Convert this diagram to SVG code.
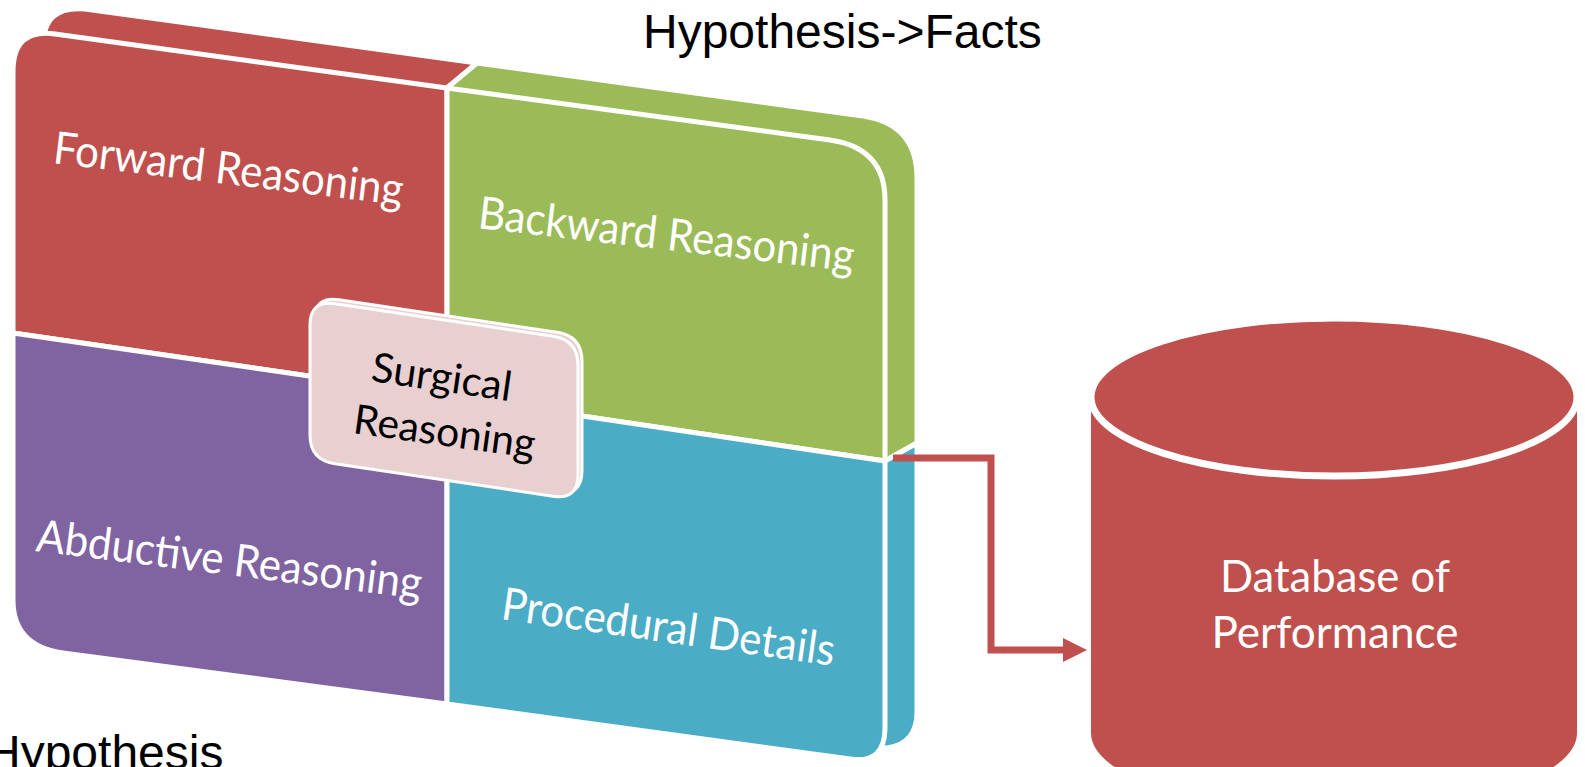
<svg xmlns="http://www.w3.org/2000/svg" width="1585" height="767" viewBox="0 0 1585 767">
  <style>
    .face { stroke: #ffffff; stroke-width: 5; stroke-linejoin: round; }
    .red { fill: #C0504D; }
    .green { fill: #9BBB59; }
    .purple { fill: #8064A2; }
    .blue { fill: #4BACC6; }
    .pink { fill: #E8CFD0; stroke: #ffffff; stroke-width: 3; }
    .lbl { font-family: Lato, "Open Sans", sans-serif; font-size: 45px; fill: #ffffff; }
    .dark { font-family: Lato, "Open Sans", sans-serif; font-size: 41px; fill: #000000; }
    .cap { font-family: "Liberation Sans", Arial, sans-serif; font-size: 48px; fill: #000000; }
    .conn { fill: none; stroke: #C0504D; stroke-width: 7; stroke-linejoin: miter; }
  </style>
  <defs>
    <marker id="arrow" viewBox="0 0 24 24" refX="1" refY="12" markerWidth="24" markerHeight="24" markerUnits="userSpaceOnUse" orient="auto">
      <path d="M0,0 L24,12 L0,24 Z" fill="#C0504D"/>
    </marker>
  </defs>

  <!-- free captions -->
  <text class="cap" x="643" y="48">Hypothesis-&gt;Facts</text>
  <text class="cap" x="-14" y="769">Hypothesis</text>

  <!-- extruded back pieces (visible as top / right thickness) -->
  <g id="matrix-depth">
    <path class="face red" d="M43,60 L43,47 Q43,5 85,9 L477,63 L447,88 L447,300 L43,300 Z"/>
    <path class="face green" d="M477,63 L863,116 Q917,124 917,178 L917,443 L885,461 L447,396 L447,88 Z"/>
    <path class="face blue" d="M885,461 L917,443 L917,712 Q917,744 887,748 L447,704 L447,396 Z"/>
  </g>

  <!-- quadrant faces -->
  <g id="forward-reasoning">
    <path class="face red" d="M13,333 L13,72 Q13,28 55,34 L447,88 L447,396 Z"/>
    <text class="lbl" x="52" y="163" transform="rotate(6.9 52 163)" textLength="352" lengthAdjust="spacingAndGlyphs">Forward Reasoning</text>
  </g>
  <g id="backward-reasoning">
    <path class="face green" d="M447,88 L830,140 Q885,148 885,200 L885,461 L447,396 Z"/>
    <text class="lbl" x="477" y="228" transform="rotate(6.6 477 228)" textLength="378" lengthAdjust="spacingAndGlyphs">Backward Reasoning</text>
  </g>
  <g id="abductive-reasoning">
    <path class="face purple" d="M13,333 L447,396 L447,704 L63,653 Q13,646 13,600 Z"/>
    <text class="lbl" x="35" y="551" transform="rotate(7.1 35 551)" textLength="388" lengthAdjust="spacingAndGlyphs">Abductive Reasoning</text>
  </g>
  <g id="procedural-details">
    <path class="face blue" d="M447,396 L885,461 L885,728 Q885,764 850,759 L447,704 Z"/>
    <text class="lbl" x="500" y="619" transform="rotate(8 500 619)" textLength="336" lengthAdjust="spacingAndGlyphs">Procedural Details</text>
  </g>

  <!-- centre label -->
  <g id="surgical-reasoning">
    <path class="pink" d="M314,321 Q314,296 339,299.75 L557,332.25 Q582,336 582,361 L582,471 Q582,496 557,492.25 L339,459.75 Q314,456 314,431 Z"/>
    <path class="pink" d="M310,325 Q310,300 335,303.75 L553,336.25 Q578,340 578,365 L578,475 Q578,500 553,496.25 L335,463.75 Q310,460 310,435 Z"/>
    <text class="dark" x="370" y="381" transform="rotate(8.2 370 381)" textLength="141" lengthAdjust="spacingAndGlyphs">Surgical</text>
    <text class="dark" x="352" y="433" transform="rotate(7.9 352 433)" textLength="183" lengthAdjust="spacingAndGlyphs">Reasoning</text>
  </g>

  <!-- database cylinder -->
  <g id="database">
    <path class="red" d="M1091,397 L1091,733 A243,79 0 0 0 1577,733 L1577,397 Z"/>
    <ellipse class="red" cx="1334" cy="397" rx="243" ry="79" stroke="#ffffff" stroke-width="7"/>
    <text class="lbl" x="1335" y="592" text-anchor="middle" font-size="45" textLength="230" lengthAdjust="spacingAndGlyphs">Database of</text>
    <text class="lbl" x="1335" y="648" text-anchor="middle" font-size="45" textLength="247" lengthAdjust="spacingAndGlyphs">Performance</text>
  </g>

  <!-- connectors -->
  <g id="connectors">
    <polyline class="conn" points="893,458 991,458 991,650 1064,650" marker-end="url(#arrow)"/>
  </g>
</svg>
